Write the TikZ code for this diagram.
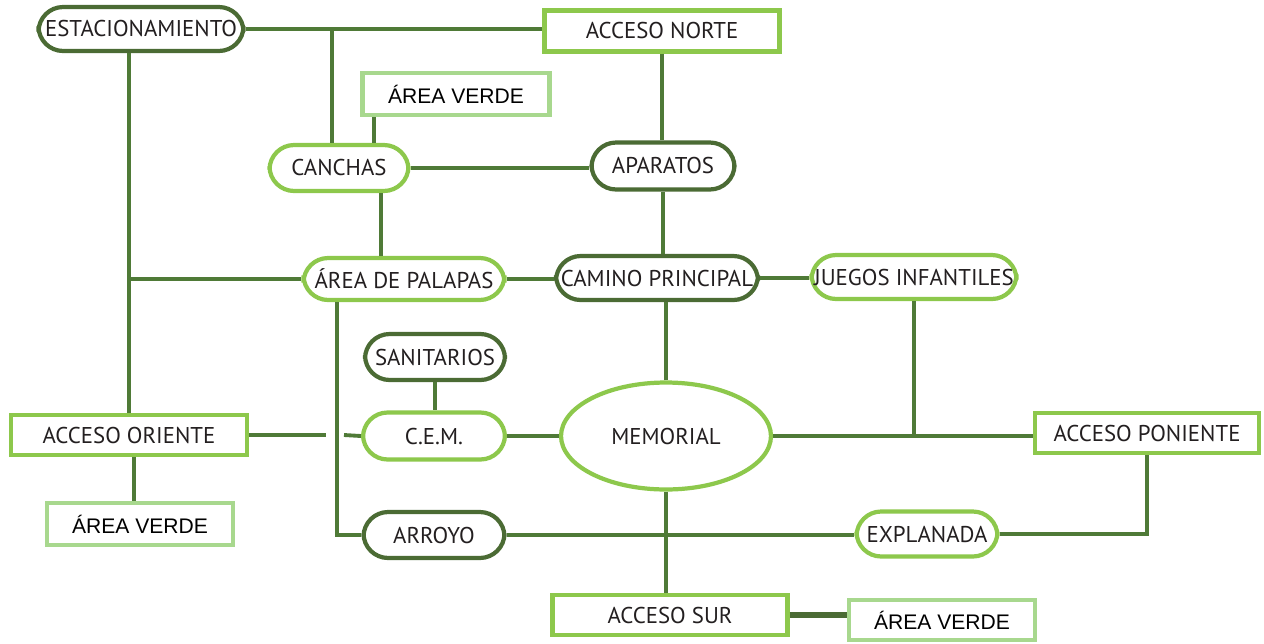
\documentclass[tikz,border=0pt]{standalone}
\usepackage{fontspec}
\setmainfont{PT Sans}
\newfontfamily\arialfont{Liberation Sans}
\usetikzlibrary{shapes.geometric}
\definecolor{darkleaf}{HTML}{4B6B34}
\definecolor{lightleaf}{HTML}{8DC84C}
\definecolor{paleleaf}{HTML}{A8D88E}
\definecolor{linkgreen}{HTML}{4F7A37}
\definecolor{inkgray}{HTML}{231F20}
\tikzset{
  pill/.style={draw, line width=2.4pt, rounded corners=14pt, fill=white, text=inkgray,
    font=\fontsize{13}{15}\selectfont, inner sep=0pt},
  darkpill/.style={pill, draw=darkleaf},
  lightpill/.style={pill, draw=lightleaf},
  accessbox/.style={draw=lightleaf, line width=2.4pt, fill=white, text=inkgray,
    font=\fontsize{13}{15}\selectfont, inner sep=0pt},
  greenbox/.style={draw=paleleaf, line width=2.4pt, fill=white, text=black,
    font=\arialfont\fontsize{12}{14}\selectfont, inner sep=0pt},
  link/.style={draw=linkgreen, line width=2.2pt}
}
\begin{document}
\begin{tikzpicture}[x=0.02cm,y=-0.02cm]
\useasboundingbox (0,0) rectangle (1264,643);
% nodes
\node[darkpill, minimum width=4.1cm, minimum height=0.88cm] (est) at (141,29) {ESTACIONAMIENTO};
\node[accessbox, minimum width=4.7cm, minimum height=0.82cm] (norte) at (662,31) {ACCESO NORTE};
\node[greenbox, minimum width=3.74cm, minimum height=0.84cm] (verdeA) at (456,94) {ÁREA VERDE};
\node[lightpill, minimum width=2.78cm, minimum height=0.92cm] (canchas) at (339,168) {CANCHAS};
\node[darkpill, minimum width=2.86cm, minimum height=0.94cm] (aparatos) at (663,166) {APARATOS};
\node[lightpill, minimum width=4.02cm, minimum height=0.84cm] (palapas) at (404,279) {ÁREA DE PALAPAS};
\node[darkpill, minimum width=4.04cm, minimum height=0.88cm] (camino) at (657,278) {CAMINO PRINCIPAL};
\node[lightpill, minimum width=4.1cm, minimum height=0.88cm] (juegos) at (914,277) {JUEGOS INFANTILES};
\node[darkpill, minimum width=2.8cm, minimum height=0.92cm] (sanit) at (435,357) {SANITARIOS};
\node[lightpill, minimum width=2.84cm, minimum height=0.94cm] (cem) at (434,436) {C.E.M.};
\node[ellipse, draw=lightleaf, line width=2.4pt, fill=white, text=inkgray, inner sep=0pt,
  font=\fontsize{13}{15}\selectfont, minimum width=4.2cm, minimum height=2.14cm] (memorial) at (666,436) {MEMORIAL};
\node[accessbox, minimum width=4.72cm, minimum height=0.8cm] (oriente) at (129,435) {ACCESO ORIENTE};
\node[greenbox, minimum width=3.72cm, minimum height=0.84cm] (verdeB) at (140,524) {ÁREA VERDE};
\node[darkpill, minimum width=2.82cm, minimum height=0.92cm] (arroyo) at (434,535) {ARROYO};
\node[accessbox, minimum width=4.48cm, minimum height=0.8cm] (poniente) at (1147,433) {ACCESO PONIENTE};
\node[lightpill, minimum width=2.82cm, minimum height=0.9cm] (explanada) at (927,534) {EXPLANADA};
\node[accessbox, minimum width=4.7cm, minimum height=0.8cm] (sur) at (670,615) {ACCESO SUR};
\node[greenbox, minimum width=3.72cm, minimum height=0.8cm] (verdeC) at (942,620) {ÁREA VERDE};
\coordinate (gapL) at (326,435);
\coordinate (gapR) at (344,435);
% connectors
\draw[link] (est.east) -- (est.east -| norte.west);
\draw[link] ([xshift=-0.14cm]canchas.north) -- ([xshift=-0.14cm]canchas.north |- est.east);
\draw[link] ([xshift=0.28cm]verdeA.south west) -- ([xshift=0.28cm]verdeA.south west |- canchas.north);
\draw[link] (canchas.east) -- (canchas.east -| aparatos.west);
\draw[link] (norte.south) -- (norte.south |- aparatos.north);
\draw[link] (aparatos.south) -- (aparatos.south |- camino.north);
\draw[link] ([xshift=0.84cm]canchas.south) -- ([xshift=0.84cm]canchas.south |- palapas.north);
\draw[link] (oriente.north) -- (oriente.north |- est.south);
\draw[link] (palapas.west) -- (palapas.west -| oriente.north);
\draw[link] (palapas.east) -- (palapas.east -| camino.west);
\draw[link] (camino.east) -- (camino.east -| juegos.west);
\draw[link] (memorial.north) -- (memorial.north |- camino.south);
\draw[link] (juegos.south) -- (juegos.south |- memorial.east);
\draw[link] (memorial.east) -- (memorial.east -| poniente.west);
\draw[link] ([xshift=0.72cm]palapas.south west) |- (arroyo.west);
\draw[link] (sanit.south) -- (sanit.south |- cem.north);
\draw[link] (oriente.east) -- (gapL);
\draw[link] (gapR) -- (cem.west);
\draw[link] (cem.east) -- (memorial.west);
\draw[link] (arroyo.east) -- (arroyo.east -| explanada.west);
\draw[link] (memorial.south) -- (memorial.south |- sur.north);
\draw[link] (explanada.east) -| (poniente.south);
\draw[link] ([xshift=0.1cm]oriente.south) -- ([xshift=0.1cm]oriente.south |- verdeB.north);
\draw[link, line width=3pt, draw=darkleaf] (sur.east) -- (sur.east -| verdeC.west);
\end{tikzpicture}
\end{document}
